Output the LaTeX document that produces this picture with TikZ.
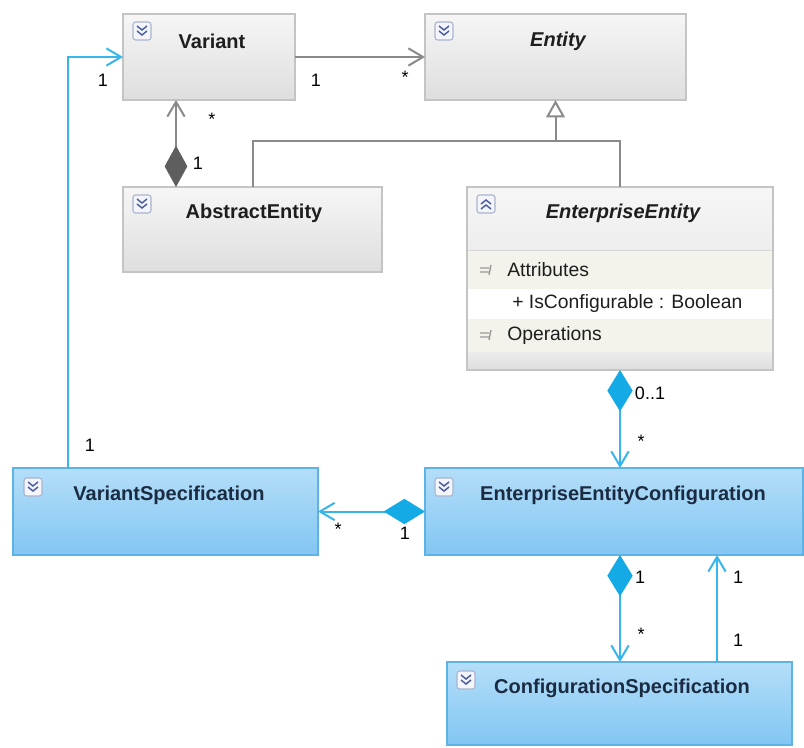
\documentclass[tikz,border=0pt]{standalone}
\usepackage{fontspec}
\setmainfont{Liberation Sans}
\usetikzlibrary{arrows.meta,calc}
\definecolor{gborder}{HTML}{C4C4C4}
\definecolor{gtop}{HTML}{F6F6F6}
\definecolor{gbot}{HTML}{DEDEDE}
\definecolor{bborder}{HTML}{5EB3E6}
\definecolor{btop}{HTML}{B4DEF9}
\definecolor{bbot}{HTML}{82C6F2}
\definecolor{gline}{HTML}{8A8A8A}
\definecolor{gdiam}{HTML}{5E5E5E}
\definecolor{cline}{HTML}{36B6EA}
\definecolor{cdiam}{HTML}{14AAE6}
\definecolor{titleg}{HTML}{1E1E1E}
\definecolor{titleb}{HTML}{1B2B42}
\definecolor{iconb}{HTML}{A9B4CC}
\definecolor{iconf}{HTML}{F3F5FA}
\definecolor{chevc}{HTML}{4B5C9C}
\definecolor{cream}{HTML}{F3F3EC}
\tikzset{
  box/.style={rectangle, inner sep=0pt, outer sep=0pt, line width=0.9pt},
  graybox/.style={box, draw=gborder, top color=gtop, bottom color=gbot},
  bluebox/.style={box, draw=bborder, top color=btop, bottom color=bbot},
  titlet/.style={font=\fontsize{15}{18}\selectfont\bfseries, inner sep=0pt},
  ititle/.style={font=\fontsize{15}{18}\selectfont\bfseries\itshape, inner sep=0pt},
  rowtext/.style={font=\fontsize{14.5}{17}\selectfont, text=titleg, inner sep=0pt, anchor=west},
  mult/.style={font=\fontsize{13.5}{16}\selectfont, inner sep=0pt},
  grayline/.style={draw=gline, line width=1.5pt},
  cyanline/.style={draw=cline, line width=1.5pt},
  openarr/.style={-{Straight Barb[length=11pt,width=13pt]}},
  gcomp/.style={{Diamond[length=31pt,width=17pt,color=gdiam]}-{Straight Barb[length=11pt,width=13pt]}},
  ccomp/.style={{Diamond[length=31pt,width=19pt,color=cdiam]}-{Straight Barb[length=11pt,width=13pt]}},
  chev/.style={draw=chevc, line width=1.1pt},
}
\newcommand\chevicon[3]{%
  \begin{scope}[shift={(#1,#2)}]
    \draw[iconb, fill=iconf, line width=0.8pt, rounded corners=2pt] (-9,-9) rectangle (9,9);
    \begin{scope}[yscale=#3]
      \draw[chev] (-5,-5) -- (0,-1) -- (5,-5);
      \draw[chev] (-5,0) -- (0,4) -- (5,0);
    \end{scope}
  \end{scope}}
\newcommand\compicon[2]{%
  \draw[gray!80, line width=1pt] (#1-6,#2-2) -- (#1+3,#2-2) (#1-6,#2+2) -- (#1+3,#2+2) (#1+5,#2-5) -- (#1+3,#2+5);}
\begin{document}
\begin{tikzpicture}[x=0.75pt,y=-0.75pt]
\useasboundingbox[fill=white] (0,0) rectangle (804,747);

% boxes
\node[graybox, minimum width=172*0.75pt, minimum height=86*0.75pt] (v) at (209,57) {};
\node[graybox, minimum width=261*0.75pt, minimum height=86*0.75pt] (e) at (555.5,57) {};
\node[graybox, minimum width=259*0.75pt, minimum height=85*0.75pt] (ae) at (252.5,229.5) {};
\node[graybox, minimum width=306*0.75pt, minimum height=183*0.75pt] (ee) at (620,278.5) {};
\node[bluebox, minimum width=305*0.75pt, minimum height=87*0.75pt] (vs) at (165.5,511.5) {};
\node[bluebox, minimum width=378*0.75pt, minimum height=87*0.75pt] (eec) at (614,511.5) {};
\node[bluebox, minimum width=345*0.75pt, minimum height=83*0.75pt] (cs) at (619.5,703.5) {};

% EnterpriseEntity compartments
\fill[cream] (468,250) rectangle (772,289);
\fill[white] (468,289) rectangle (772,319);
\fill[cream] (468,319) rectangle (772,352);
\shade[top color=gtop!60!gbot, bottom color=gbot] (468,352) rectangle (772,369.5);
\draw[gborder, line width=0.9pt] (ee.north west) rectangle (ee.south east);
\draw[gborder!70, line width=0.6pt] (468,250) -- (772,250);

% icons
\chevicon{142}{31}{1}
\chevicon{444}{31}{1}
\chevicon{142}{204}{1}
\chevicon{486}{204}{-1}
\chevicon{33}{487}{1}
\chevicon{444}{487}{1}
\chevicon{466}{680}{1}
\compicon{486}{270}
\compicon{486}{335}

% titles
\node[titlet, text=titleg] (vt) at (212,41) {Variant};
\node[ititle, text=titleg] (et) at (558,41) {Entity};
\node[titlet, text=titleg] (aet) at (254,213) {AbstractEntity};
\node[ititle, text=titleg] (eet) at (623,213) {EnterpriseEntity};
\node[titlet, text=titleb] (vst) at (169,495) {VariantSpecification};
\node[titlet, text=titleb] (eect) at (623,495) {EnterpriseEntityConfiguration};
\node[titlet, text=titleb] (cst) at (622,688) {ConfigurationSpecification};

% compartment rows
\node[rowtext] (attr) at (507,270) {Attributes};
\node[rowtext] (isc) at (512,303) {+ IsConfigurable : Boolean};
\node[rowtext] (ops) at (507,335) {Operations};

% connectors
\draw[grayline, openarr] (v.east) -- (e.west);
\draw[grayline, gcomp] ([xshift=53*0.75pt]ae.north west) -- ([xshift=53*0.75pt]v.south west);
\coordinate (gj) at (555.5,141);
\draw[grayline] (ae.north) |- (gj);
\draw[grayline] (ee.north) |- (gj);
\draw[grayline, -{Triangle[length=13pt,width=14pt,fill=white]}] (gj) -- (e.south);
\draw[cyanline, openarr] ([xshift=55*0.75pt]vs.north west) |- (v.west);
\draw[cyanline, ccomp] (ee.south) -- ([xshift=195*0.75pt]eec.north west);
\draw[cyanline, ccomp] (eec.west) -- (vs.east);
\draw[cyanline, ccomp] ([xshift=195*0.75pt]eec.south west) -- ([xshift=173*0.75pt]cs.north west);
\draw[cyanline, openarr] ([xshift=270*0.75pt]cs.north west) -- ([xshift=292*0.75pt]eec.south west);

% multiplicities
\node[mult] (m1) at (103,80) {1};
\node[mult] (m2) at (316,80) {1};
\node[mult] (m3) at (405,77) {*};
\node[mult] (m4) at (212,119) {*};
\node[mult] (m5) at (198,163) {1};
\node[mult] (m6) at (650,393) {0..1};
\node[mult] (m7) at (641,441) {*};
\node[mult] (m8) at (90,445) {1};
\node[mult] (m9) at (338,529) {*};
\node[mult] (m10) at (405,533) {1};
\node[mult] (m11) at (640,577) {1};
\node[mult] (m12) at (738,577) {1};
\node[mult] (m13) at (641,634) {*};
\node[mult] (m14) at (738,640) {1};
\end{tikzpicture}
\end{document}
